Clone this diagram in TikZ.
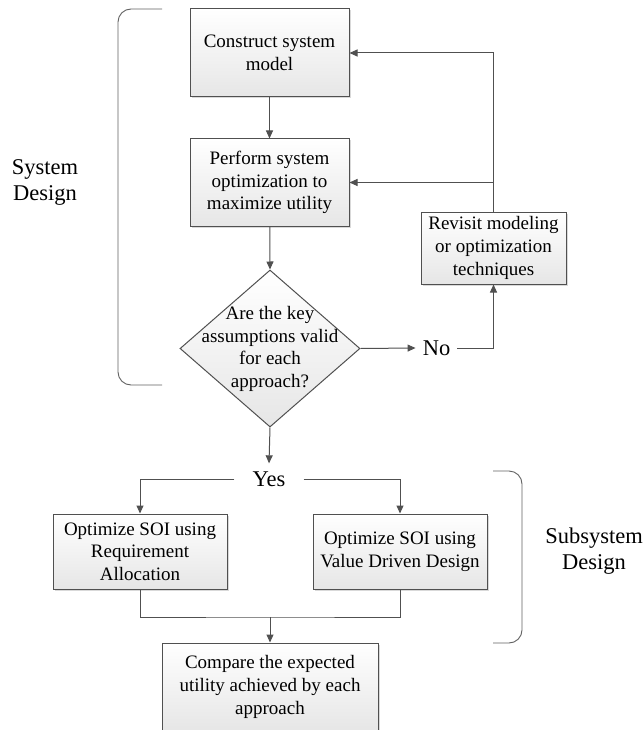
\documentclass[tikz,border=0pt]{standalone}
\usepackage{fontspec}
\setmainfont{LiberationSerif}[Extension=.ttf, UprightFont=*-Regular, BoldFont=*-Bold, ItalicFont=*-Italic, BoldItalicFont=*-BoldItalic]
\usetikzlibrary{shapes.geometric,arrows.meta,shadows}
\definecolor{linec}{HTML}{505050}
\definecolor{boxbot}{HTML}{E6E6E6}
\begin{document}
\begin{tikzpicture}[x=1pt,y=-1pt,
  every node/.style={font=\rmfamily\fontsize{19}{22.6}\selectfont},
  procbox/.style={draw=linec, line width=1pt, top color=white, bottom color=boxbot,
    drop shadow={shadow xshift=1.5pt, shadow yshift=-1.5pt, opacity=0.3, fill=gray},
    align=center, inner sep=0pt},
  decbox/.style={draw=linec, line width=1pt, diamond, top color=white, bottom color=boxbot,
    inner sep=0pt},
  lbl/.style={font=\rmfamily\fontsize{22.5}{26}\selectfont, align=center, inner sep=0pt},
  arr/.style={draw=linec, line width=1pt, -{Triangle[length=8pt,width=7pt]}},
  ln/.style={draw=linec, line width=1pt},
  brace/.style={draw=linec!90, line width=0.9pt, rounded corners=13pt}]
\useasboundingbox (0,0) rectangle (643,730);

% brackets
\draw[brace] (162,9) -- (118,9) -- (118,385) -- (162,385);
\draw[brace] (493,471) -- (522,471) -- (522,643) -- (493,643);
\node[lbl] (sysd) at (45,182) {System\\Design};
\node[lbl] (subd) at (594,551) {Subsystem\\Design};

% nodes
\node[procbox, minimum width=159pt, minimum height=88pt] (b1) at (269.5,53) {Construct system\\model};
\node[procbox, minimum width=159pt, minimum height=87pt] (b2) at (269.5,182.5) {Perform system\\optimization to\\maximize utility};
\node[decbox, minimum width=180pt, minimum height=157pt] (d) at (270,348.5) {};
\node[align=center, inner sep=0pt] (dt) at (270,349) {Are the key\\assumptions valid\\for each\\approach?};
\node[procbox, minimum width=145pt, minimum height=72pt] (rv) at (493.5,248) {Revisit modeling\\or optimization\\techniques};
\node[lbl, inner xsep=7pt] (no) at (436.5,348) {No};
\node[lbl, inner xsep=18pt, inner ysep=8pt] (yes) at (269,479) {Yes};
\node[procbox, minimum width=174pt, minimum height=75pt] (l) at (140,551.5) {Optimize SOI using\\Requirement\\Allocation};
\node[procbox, minimum width=174pt, minimum height=75pt] (r) at (400,551.5) {Optimize SOI using\\Value Driven Design};
\node[procbox, minimum width=216pt, minimum height=88pt] (cmp) at (270,687) {Compare the expected\\utility achieved by each\\approach};
\coordinate (m) at (270,617);

% connectors
\draw[arr] (b1) -- (b2);
\draw[arr] (b2) -- (d.north);
\draw[arr] (d.east) -- (no.west);
\draw[arr] (no.east) -| (rv.south);
\draw[arr] (rv.north) |- (b1.east);
\draw[arr] (rv.north |- b2.east) -- (b2.east);
\draw[arr] (d.south) -- (yes.north);
\draw[arr] (yes.west) -| (l.north);
\draw[arr] (yes.east) -| (r.north);
\draw[ln] (l.south) |- (m) -| (r.south);
\draw[arr] (m) -- (cmp.north);
\end{tikzpicture}
\end{document}
